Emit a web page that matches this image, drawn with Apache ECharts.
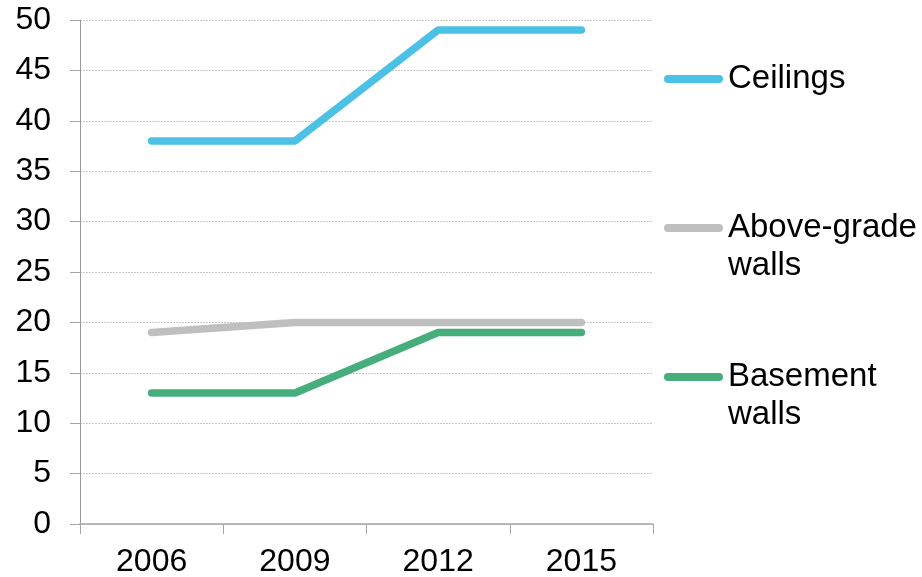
<!DOCTYPE html>
<html><head><meta charset="utf-8">
<script src="https://cdn.jsdelivr.net/npm/echarts@6/dist/echarts.min.js"></script>
<style>html,body{margin:0;padding:0;background:#fff}#c{width:922px;height:577px}</style>
</head><body><div id="c"></div>
<script>
const categories = ['2006', '2009', '2012', '2015'];
const ceilings = [38, 38, 49, 49];
const aboveGradeWalls = [19, 20, 20, 20];
const basementWalls = [13, 13, 19, 19];
const seriesNames = ['Ceilings', 'Above-grade walls', 'Basement walls'];
const colors = ['#4bc1e6', '#bfbfbf', '#46ae7d'];

const FONT = '"Liberation Sans", Arial, sans-serif';
const LH = 38;
const icon = 'path://M4,0 H56 A4,4 0 0 1 56,8 H4 A4,4 0 0 1 4,0 Z';
function legendFor(name, top, twoLine) {
  return {
    data: [name], left: 664, top: top, padding: 0, orient: 'vertical',
    icon: icon, itemWidth: 59, itemHeight: 8, selectedMode: false,
    formatter: twoLine
      ? (n) => { const p = n.split(' '); return '{s| }\n{t|' + p[0] + '}\n{t|' + p[1] + '}'; }
      : (n) => n,
    textStyle: { fontFamily: FONT, fontSize: 33, color: '#000', lineHeight: LH,
      rich: {
        s: { fontSize: 33, lineHeight: LH, fontFamily: FONT },
        t: { fontSize: 33, lineHeight: LH, fontFamily: FONT, color: '#000' }
      } }
  };
}
const chart = echarts.init(document.getElementById('c'));
chart.setOption({
  animation: false,
  color: colors,
  grid: { left: 80, right: 269, top: 20, bottom: 53, containLabel: false, outerBoundsMode: 'none' },
  legend: [
    legendFor(seriesNames[0], 79 - LH / 2, false),
    legendFor(seriesNames[1], 228 - 1.5 * LH, true),
    legendFor(seriesNames[2], 377 - 1.5 * LH, true)
  ],
  xAxis: {
    type: 'category', data: categories, boundaryGap: true,
    axisLine: { lineStyle: { color: '#a6a6a6', width: 1.5 } },
    axisTick: { show: true, length: 10, lineStyle: { color: '#a6a6a6' } },
    axisLabel: { fontFamily: FONT, fontSize: 32, color: '#000', margin: 22 }
  },
  yAxis: {
    type: 'value', min: 0, max: 50, interval: 5,
    axisLine: { show: true, lineStyle: { color: '#999', width: 1 } },
    axisTick: { show: true, length: 10, lineStyle: { color: '#a6a6a6' } },
    axisLabel: { fontFamily: FONT, fontSize: 32, color: '#000', margin: 29 },
    splitLine: { lineStyle: { color: '#c8c8c8', type: [2, 1], width: 1 } }
  },
  series: [
    { name: seriesNames[0], type: 'line', data: ceilings, symbol: 'none',
      lineStyle: { width: 7.5, cap: 'round', join: 'round' } },
    { name: seriesNames[1], type: 'line', data: aboveGradeWalls, symbol: 'none',
      lineStyle: { width: 7.5, cap: 'round', join: 'round' } },
    { name: seriesNames[2], type: 'line', data: basementWalls, symbol: 'none',
      lineStyle: { width: 7.5, cap: 'round', join: 'round' } }
  ]
});
</script></body></html>
